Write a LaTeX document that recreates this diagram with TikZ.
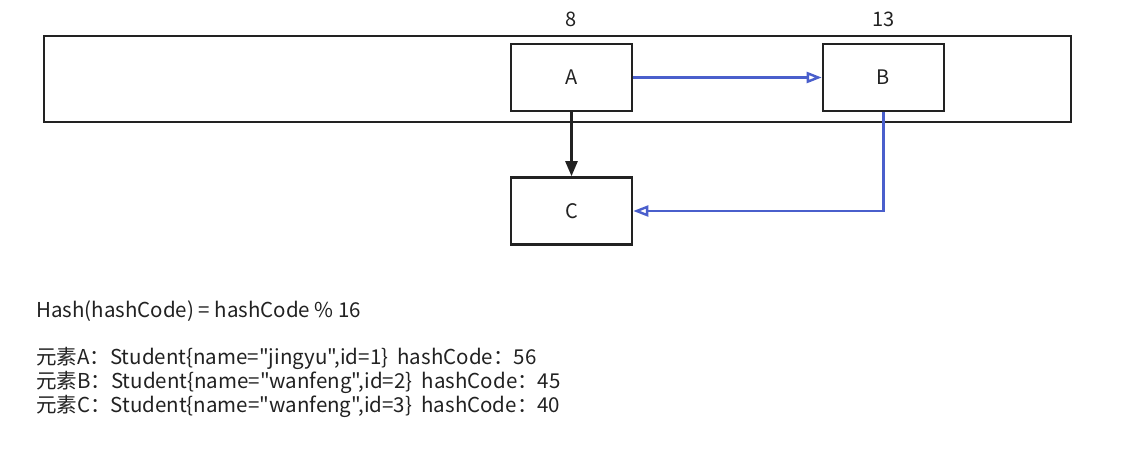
\documentclass[tikz,border=0pt]{standalone}
\usepackage{fontspec}
\setmainfont{Noto Sans CJK SC}[Ligatures=TeXOff]
\usetikzlibrary{arrows.meta}
\definecolor{lineblue}{HTML}{4A5FCC}
\definecolor{ink}{HTML}{222222}
\begin{document}
\begin{tikzpicture}[x=1pt,y=-1pt,
  box/.style={draw=ink,line width=2.6pt,minimum width=121pt,minimum height=67pt,inner sep=0pt,font=\fontsize{20}{22}\selectfont,text=ink},
  lbl/.style={font=\fontsize{20}{22}\selectfont,text=ink,inner sep=0pt},
  bluearrow/.style={draw=lineblue,line width=2.4pt,-{Triangle[open,length=15pt,width=11pt]}},
  blackarrow/.style={draw=ink,line width=2.4pt,-{Triangle[length=15pt,width=12pt]}},
  txt/.style={font=\fontsize{20.5}{22}\selectfont,text=ink,anchor=west,inner sep=0pt}]
\useasboundingbox (0,0) rectangle (1129,455);
\fill[white] (0,0) rectangle (1129,455);
\node[draw=ink,line width=2.6pt,minimum width=1027pt,minimum height=86pt,inner sep=0pt] (table) at (557.5,79) {};
\node[box] (A) at (571.5,77.5) {A};
\node[box] (B) at (883.5,77.5) {B};
\node[box] (C) at (571.5,211) {C};
\node[lbl] (n8) at (571.5,19) {8};
\node[lbl] (n13) at (883.5,19) {13};
\coordinate (bend) at (B.south |- C.east);
\draw[bluearrow] (A.east) -- (B.west);
\draw[blackarrow] (A.south) -- (C.north);
\draw[bluearrow] (B.south) -- (bend) -- (C.east);
\node[txt] (hash) at (36,311) {Hash(hashCode) = hashCode \% 16};
\node[txt] (ea) at (36,358) {元素A：Student\{name="jingyu",id=1\}~~hashCode：56};
\node[txt] (eb) at (36,382) {元素B：Student\{name="wanfeng",id=2\}~~hashCode：45};
\node[txt] (ec) at (36,406) {元素C：Student\{name="wanfeng",id=3\}~~hashCode：40};
\end{tikzpicture}
\end{document}
